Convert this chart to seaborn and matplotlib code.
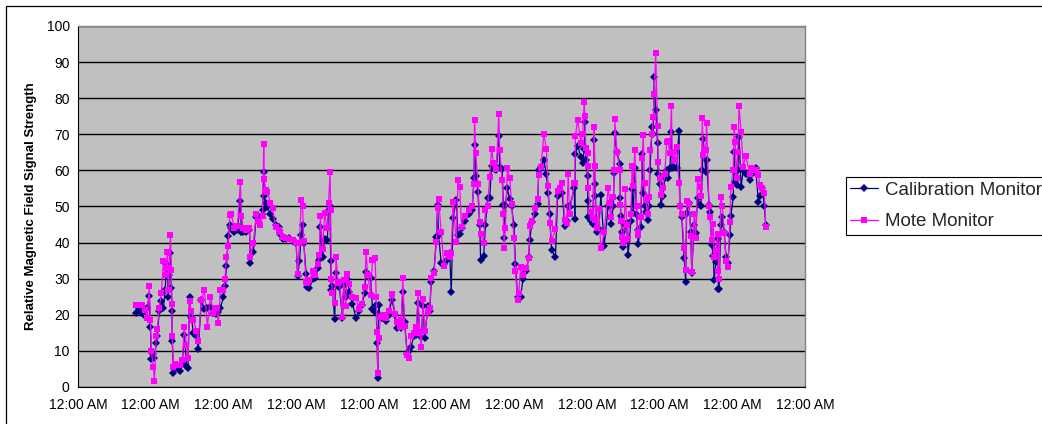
import matplotlib
matplotlib.use("Agg")
import matplotlib.pyplot as plt
import matplotlib.dates as mdates
from matplotlib.patches import Rectangle
from matplotlib.lines import Line2D
import seaborn as sns
import pandas as pd

# Elapsed time of each sample (hours after the start of the recording window)
hours = [
    19.2, 20.2, 21.2, 22.2, 22.9, 23.5, 23.9, 24.2, 24.9, 25.2,
    25.8, 26.2, 26.8, 27.5, 28.2, 28.8, 29.1, 29.5, 29.8, 30.1,
    30.5, 30.8, 31.0, 31.1, 31.5, 32.1, 32.8, 33.8, 34.4, 35.1,
    35.8, 36.3, 36.8, 37.4, 38.1, 39.1, 39.7, 40.7, 41.7, 42.7,
    43.7, 44.7, 45.7, 46.3, 47.0, 48.0, 48.5, 49.0, 49.6, 50.1,
    50.6, 51.6, 52.6, 53.6, 53.9, 54.6, 55.6, 56.6, 56.9, 57.9,
    58.8, 59.6, 60.2, 60.9, 61.3, 61.5, 61.9, 62.5, 63.5, 64.2,
    65.2, 66.2, 66.8, 67.8, 68.8, 69.8, 70.8, 72.0, 72.5, 73.1,
    73.7, 74.1, 74.5, 75.3, 75.7, 76.4, 77.5, 78.3, 79.1, 79.7,
    80.0, 80.7, 81.4, 82.3, 82.7, 83.2, 83.4, 83.6, 84.0, 84.7,
    85.2, 85.8, 86.3, 87.3, 87.7, 88.3, 88.9, 89.6, 90.6, 91.8,
    92.7, 93.7, 94.6, 95.1, 95.6, 96.6, 97.2, 98.1, 98.4, 98.7,
    99.0, 99.2, 99.9, 100.9, 101.8, 102.5, 103.6, 104.7, 105.4, 106.2,
    106.7, 107.2, 107.8, 108.7, 109.1, 110.0, 110.8, 111.7, 112.2, 112.8,
    113.3, 113.9, 114.4, 115.5, 116.1, 116.6, 117.5, 118.3, 118.7, 119.0,
    119.9, 120.8, 121.9, 122.7, 123.2, 123.8, 124.9, 125.4, 126.0, 126.6,
    127.6, 129.0, 130.1, 130.7, 130.9, 131.3, 132.0, 132.6, 132.9, 133.9,
    134.5, 135.2, 135.9, 136.5, 137.2, 138.1, 138.9, 139.2, 140.0, 140.4,
    140.6, 141.1, 141.7, 142.5, 143.1, 143.9, 144.4, 145.1, 145.5, 146.1,
    146.9, 148.0, 148.8, 149.1, 149.9, 150.8, 151.7, 152.1, 152.8, 153.8,
    154.6, 155.2, 155.7, 156.3, 157.6, 158.3, 159.0, 159.8, 160.7, 161.3,
    161.8, 162.3, 163.8, 164.0, 164.2, 164.9, 166.0, 166.6, 167.1, 167.3,
    167.6, 168.2, 168.3, 168.4, 169.3, 170.0, 170.4, 170.6, 170.8, 171.2,
    171.9, 172.6, 173.7, 175.0, 175.6, 175.9, 176.7, 177.0, 177.2, 177.9,
    178.9, 179.0, 179.2, 179.6, 180.0, 180.7, 181.1, 181.6, 182.5, 182.9,
    183.3, 183.8, 184.4, 184.7, 184.9, 185.8, 186.2, 186.6, 187.0, 187.4,
    188.0, 188.5, 188.8, 189.5, 189.9, 190.2, 190.7, 191.3, 191.5, 192.1,
    192.4, 193.1, 193.7, 194.3, 194.7, 195.4, 195.9, 196.1, 196.9, 197.6,
    198.4, 198.7, 199.3, 200.1, 200.6, 200.9, 201.7, 202.3, 202.6, 203.4,
    203.9, 204.5, 205.3, 205.6, 206.1, 206.4, 207.2, 207.5, 208.3, 208.6,
    209.2, 209.7, 210.0, 210.6, 211.2, 211.4, 211.6, 212.2, 212.7, 213.3,
    213.9, 214.5, 215.2, 215.5, 216.3, 216.6, 216.9, 217.4, 217.8, 218.2,
    218.9, 219.6, 220.4, 221.8, 222.6, 223.7, 224.6, 225.1, 225.9, 226.6,
    227.0,
]

calibration_monitor = [
    20.6, 21.5, 20.5, 19.7, 22.0, 25.3, 16.5, 7.7, 9.0, 8.0,
    12.3, 14.0, 21.0, 23.9, 21.9, 27.0, 34.0, 31.0, 25.0, 31.0,
    37.0, 27.4, 21.0, 12.8, 4.0, 5.0, 5.5, 4.4, 6.5, 14.4,
    5.8, 5.2, 24.8, 19.3, 15.0, 14.0, 10.5, 24.0, 21.6, 22.0,
    22.2, 20.5, 20.2, 20.7, 22.0, 24.8, 28.0, 33.5, 41.8, 44.9,
    44.0, 42.8, 43.5, 51.5, 42.8, 43.0, 43.0, 43.5, 34.3, 37.5,
    47.2, 47.0, 47.0, 49.0, 59.6, 53.0, 50.9, 49.8, 48.0, 46.4,
    45.0, 44.2, 42.5, 40.9, 41.0, 41.2, 40.5, 39.8, 30.7, 35.0,
    42.1, 45.0, 40.0, 31.3, 27.6, 27.3, 30.0, 30.1, 33.0, 35.2,
    44.2, 36.0, 41.0, 40.7, 49.0, 50.0, 35.0, 26.9, 28.0, 18.7,
    31.5, 28.0, 27.6, 19.0, 28.3, 25.0, 30.0, 26.4, 23.0, 19.0,
    21.0, 22.7, 26.0, 31.9, 30.7, 30.1, 21.5, 20.9, 22.7, 12.1,
    2.4, 22.7, 19.0, 19.0, 18.4, 20.0, 24.1, 20.0, 16.3, 18.0,
    16.3, 26.4, 18.1, 9.0, 10.0, 11.2, 14.0, 14.4, 23.4, 15.0,
    13.9, 22.4, 13.5, 22.3, 21.0, 29.0, 32.2, 41.6, 50.4, 42.0,
    34.4, 34.0, 35.2, 37.0, 26.4, 46.7, 51.8, 42.1, 42.5, 44.0,
    46.1, 48.0, 49.0, 57.8, 67.0, 58.5, 54.1, 45.0, 35.2, 36.3,
    44.9, 52.3, 52.3, 61.2, 60.5, 60.1, 69.5, 61.0, 60.3, 50.4,
    41.2, 50.4, 55.0, 52.0, 50.0, 44.9, 34.1, 24.8, 25.0, 25.0,
    30.0, 32.0, 36.0, 40.7, 45.8, 48.0, 50.7, 60.1, 61.0, 62.9,
    59.0, 53.8, 47.9, 38.0, 35.9, 52.9, 54.0, 53.8, 44.6, 46.0,
    50.0, 49.8, 55.0, 46.4, 64.5, 66.8, 63.8, 62.0, 65.8, 73.5,
    62.9, 58.4, 51.6, 47.0, 46.0, 45.2, 68.4, 56.2, 52.9, 43.0,
    43.7, 53.2, 39.1, 50.0, 51.1, 45.2, 50.0, 59.4, 70.3, 65.0,
    61.8, 52.3, 47.4, 42.8, 38.9, 45.0, 45.5, 36.6, 46.1, 54.8,
    48.3, 60.6, 47.6, 43.5, 39.6, 44.4, 64.5, 53.8, 50.0, 48.6,
    46.3, 50.0, 60.1, 71.9, 70.0, 85.8, 76.7, 67.5, 59.0, 56.2,
    50.4, 53.0, 57.8, 60.0, 57.8, 60.6, 70.7, 60.6, 61.0, 60.8,
    71.0, 50.0, 47.0, 35.6, 29.2, 48.1, 51.1, 43.0, 31.7, 45.0,
    42.6, 52.3, 50.5, 50.1, 60.0, 68.6, 59.6, 63.0, 50.5, 48.6,
    39.3, 36.3, 29.6, 34.7, 41.0, 27.1, 27.1, 45.0, 47.0, 43.0,
    36.0, 34.4, 42.0, 47.4, 52.5, 65.2, 56.9, 56.0, 60.0, 69.3,
    55.5, 60.1, 59.0, 57.3, 59.0, 60.6, 51.3, 53.0, 55.0, 50.0,
    44.9,
]

mote_monitor = [
    22.8, 22.8, 22.6, 21.3, 19.0, 27.9, 18.5, 10.0, 5.4, 1.7,
    14.0, 16.0, 22.0, 26.0, 35.0, 31.0, 33.0, 37.3, 27.0, 33.0,
    42.2, 32.4, 23.1, 14.2, 5.4, 6.3, 6.1, 6.0, 7.4, 16.5,
    11.7, 8.0, 23.7, 21.0, 18.5, 15.6, 12.8, 24.0, 27.0, 16.7,
    25.0, 20.6, 22.0, 17.6, 27.0, 27.0, 29.8, 36.0, 39.0, 47.6,
    47.8, 44.0, 44.5, 56.9, 47.5, 44.1, 43.5, 44.0, 36.0, 40.0,
    47.8, 46.0, 45.0, 47.5, 67.3, 57.5, 54.6, 54.1, 51.0, 49.7,
    44.4, 43.5, 43.0, 41.5, 41.2, 41.0, 40.7, 40.0, 31.3, 40.0,
    51.8, 50.1, 40.5, 29.0, 28.9, 29.5, 32.0, 31.0, 34.0, 36.6,
    47.4, 38.1, 48.1, 44.0, 50.9, 59.6, 49.0, 29.8, 26.0, 23.2,
    35.9, 28.7, 29.0, 19.5, 29.6, 22.4, 31.2, 28.5, 25.0, 24.6,
    21.5, 23.0, 27.8, 37.5, 31.0, 25.5, 35.2, 35.6, 25.0, 15.3,
    4.0, 13.5, 19.5, 20.0, 19.0, 21.0, 25.8, 20.2, 18.1, 16.5,
    18.6, 30.1, 17.0, 8.9, 8.0, 14.1, 15.0, 16.7, 25.9, 14.9,
    11.0, 24.3, 15.6, 20.9, 22.0, 30.1, 31.7, 40.3, 49.5, 52.0,
    42.8, 33.5, 37.2, 36.0, 37.0, 51.3, 40.3, 57.2, 55.3, 44.4,
    47.4, 49.0, 50.0, 56.2, 74.0, 64.9, 56.2, 45.8, 42.4, 40.0,
    49.0, 50.0, 58.3, 65.8, 62.0, 60.5, 75.6, 65.7, 57.2, 47.9,
    38.6, 44.0, 60.8, 58.0, 50.7, 41.2, 32.0, 24.1, 26.0, 33.3,
    31.0, 33.0, 35.6, 44.6, 46.0, 49.5, 52.0, 58.7, 61.0, 70.1,
    65.8, 55.7, 45.3, 40.5, 43.7, 54.4, 55.0, 56.6, 46.3, 45.5,
    59.0, 48.0, 56.4, 56.4, 69.5, 74.0, 67.5, 70.1, 79.0, 75.1,
    66.1, 64.7, 61.2, 55.0, 48.4, 46.7, 71.9, 61.2, 46.3, 44.0,
    49.2, 38.4, 42.8, 55.0, 51.0, 47.0, 52.5, 60.0, 74.1, 65.2,
    60.0, 50.4, 46.0, 41.5, 39.8, 54.8, 44.9, 40.9, 48.0, 61.2,
    55.7, 65.7, 50.0, 43.0, 42.0, 47.0, 63.3, 69.8, 56.4, 51.8,
    48.0, 52.5, 65.7, 70.0, 74.9, 81.2, 92.6, 72.3, 62.4, 58.0,
    53.2, 55.0, 59.0, 68.0, 68.2, 64.9, 77.8, 65.2, 63.0, 66.6,
    56.4, 50.0, 47.9, 38.4, 32.4, 51.6, 50.7, 41.8, 31.9, 47.9,
    41.2, 57.5, 55.5, 53.0, 74.4, 64.3, 65.7, 73.2, 50.0, 47.0,
    40.7, 45.2, 36.1, 38.0, 42.4, 32.2, 30.0, 52.5, 50.1, 42.6,
    35.0, 33.1, 45.8, 55.3, 60.1, 71.9, 68.0, 58.0, 65.2, 77.7,
    70.7, 61.0, 64.0, 59.0, 60.8, 60.0, 58.7, 56.0, 55.0, 53.6,
    44.4,
]

y_ticks = list(range(0, 101, 10))
y_label = "Relative Magnetic Field Signal Strength"
series_names = ["Calibration Monitor", "Mote Monitor"]
series_colors = ["#000080", "#FF00FF"]

start = pd.Timestamp("2004-07-01")
times = start + pd.to_timedelta(hours, unit="h")
df = pd.DataFrame({
    "time": times,
    series_names[0]: calibration_monitor,
    series_names[1]: mote_monitor,
})

sns.set_theme(style="white")
plt.rcParams["font.family"] = ["Liberation Sans", "DejaVu Sans"]

fig = plt.figure(figsize=(10.42, 4.24), dpi=100)
fig.patch.set_facecolor("white")
ax = fig.add_axes([0.0749, 0.0873, 0.6977, 0.8514])
ax.set_facecolor("#C0C0C0")

marker_calib = dict(marker="D", markersize=4.4, markeredgewidth=0)
marker_mote = dict(marker="s", markersize=3.8, markeredgewidth=0)

sns.lineplot(data=df, x="time", y=series_names[0], ax=ax, color=series_colors[0],
             linewidth=0.9, estimator=None, sort=False, zorder=3, **marker_calib)
sns.lineplot(data=df, x="time", y=series_names[1], ax=ax, color=series_colors[1],
             linewidth=0.9, estimator=None, sort=False, zorder=4, **marker_mote)

ax.set_xlim(start, start + pd.Timedelta(days=10))
ax.set_ylim(0, 100)
ax.set_yticks(y_ticks)
ax.xaxis.set_major_locator(mdates.DayLocator())
ax.xaxis.set_major_formatter(mdates.DateFormatter("%I:%M %p"))

ax.yaxis.grid(True, color="black", linewidth=1.0, zorder=1)
ax.xaxis.grid(False)
ax.set_axisbelow(True)

for side in ("top", "right"):
    ax.spines[side].set_color("#808080")
    ax.spines[side].set_linewidth(1.0)
for side in ("left", "bottom"):
    ax.spines[side].set_color("#000000")
    ax.spines[side].set_linewidth(0.8)

ax.tick_params(axis="both", direction="out", length=4, width=0.8, color="black",
               labelsize=10, labelcolor="black", pad=2)
ax.tick_params(axis="x", pad=4)
ax.set_xlabel("")
ax.set_ylabel(y_label, fontsize=9.5, fontweight="bold", color="black")
ax.yaxis.set_label_coords(-0.056, 0.5)

handles = [
    Line2D([], [], color=series_colors[0], linewidth=0.9, **marker_calib),
    Line2D([], [], color=series_colors[1], linewidth=0.9, **marker_mote),
]
leg = fig.legend(handles, series_names, loc="center left",
                 bbox_to_anchor=(0.8115, 0.514), fontsize=13.5, frameon=True,
                 fancybox=False, edgecolor="black", framealpha=1,
                 handlelength=1.5, handletextpad=0.35, borderpad=0.25,
                 labelspacing=0.75, borderaxespad=0)
leg.get_frame().set_linewidth(0.8)

# Outer chart frame
fig.patches.append(Rectangle((0.006, -0.02), 1.2, 1.006, transform=fig.transFigure,
                             fill=False, edgecolor="black", linewidth=0.9))

fig.savefig("out.png", dpi=100)
